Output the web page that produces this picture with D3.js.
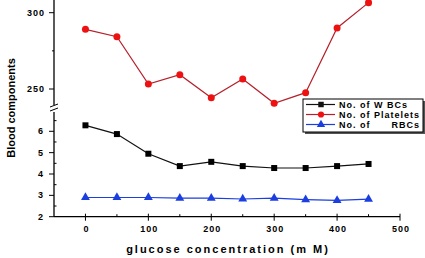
<!DOCTYPE html>
<html>
<head>
<meta charset="utf-8">
<script src="https://cdn.jsdelivr.net/npm/d3@7"></script>
<style>
    body { margin: 0; background: #fff; }
    svg { display: block; font-family: "Liberation Sans", Arial, sans-serif; }
    .tick_label { font-size: 9px; font-weight: bold; letter-spacing: 1px; }
</style>
</head>
<body>
<div class="chart_holder"></div>
<script>
// glucose concentration (mM)
const glucose = [0, 50, 100, 150, 200, 250, 300, 350, 400, 450]
const wbc = [6.28, 5.87, 4.95, 4.37, 4.57, 4.37, 4.28, 4.28, 4.37, 4.47]
const platelets = [289.1, 284.3, 253.3, 259.4, 244.3, 256.6, 240.6, 247.6, 290, 306.6]
const rbc = [2.9, 2.9, 2.9, 2.87, 2.87, 2.83, 2.87, 2.8, 2.76, 2.82]

const x_ticks = [0, 100, 200, 300, 400, 500]
const upper_ticks = [250, 300]
const lower_ticks = [2, 3, 4, 5, 6]

const series_names = ["No. of W BCs", "No. of Platelets", "No. of      RBCs"]

function drawChart() {
    const width = 425
    const height = 258

    const svg = d3.select(".chart_holder")
        .append("svg")
        .attr("width", width)
        .attr("height", height)

    const x = d3.scaleLinear().domain([-50, 500]).range([54, 400])
    const y_up = d3.scaleLinear().domain([250, 300]).range([89, 12.7])
    const y_low = d3.scaleLinear().domain([2, 6]).range([216.7, 131.3])

    const axis_x = 54
    const base_y = 216.7

    // y axis - upper part and lower part with break
    svg.append("line").attr("x1", axis_x).attr("x2", axis_x).attr("y1", 0).attr("y2", 105)
        .attr("stroke", "#000").attr("stroke-width", 1.3)
    svg.append("line").attr("x1", axis_x).attr("x2", axis_x).attr("y1", 112).attr("y2", base_y)
        .attr("stroke", "#000").attr("stroke-width", 1.3)
    svg.selectAll(".brk")
        .data([105.5, 109.5])
        .join("line")
        .attr("x1", axis_x - 4).attr("x2", axis_x + 4)
        .attr("y1", d => d + 1.5).attr("y2", d => d - 1.5)
        .attr("stroke", "#000").attr("stroke-width", 1)

    // upper ticks
    svg.selectAll(".up_tick")
        .data(upper_ticks)
        .join("line")
        .attr("x1", axis_x - 5).attr("x2", axis_x)
        .attr("y1", d => y_up(d)).attr("y2", d => y_up(d))
        .attr("stroke", "#000")
    svg.append("line")
        .attr("x1", axis_x - 2).attr("x2", axis_x)
        .attr("y1", y_up(275)).attr("y2", y_up(275))
        .attr("stroke", "#000")
    svg.selectAll(".up_label")
        .data(upper_ticks)
        .join("text")
        .attr("class", "tick_label")
        .attr("x", axis_x - 9)
        .attr("y", d => y_up(d) + 3)
        .attr("text-anchor", "end")
        .text(d => d)

    // lower ticks
    svg.selectAll(".low_tick")
        .data(lower_ticks)
        .join("line")
        .attr("x1", axis_x - 5).attr("x2", axis_x)
        .attr("y1", d => y_low(d)).attr("y2", d => y_low(d))
        .attr("stroke", "#000")
    svg.selectAll(".low_minor")
        .data([2.5, 3.5, 4.5, 5.5, 6.5])
        .join("line")
        .attr("x1", axis_x).attr("x2", axis_x + 2.5)
        .attr("y1", d => y_low(d)).attr("y2", d => y_low(d))
        .attr("stroke", "#000")
    svg.selectAll(".low_label")
        .data(lower_ticks)
        .join("text")
        .attr("class", "tick_label")
        .attr("x", axis_x - 10)
        .attr("y", d => y_low(d) + 3)
        .attr("text-anchor", "end")
        .text(d => d)

    // x axis
    svg.append("line").attr("x1", axis_x).attr("x2", x(500)).attr("y1", base_y).attr("y2", base_y)
        .attr("stroke", "#000").attr("stroke-width", 1.3)
    svg.selectAll(".x_tick")
        .data(x_ticks)
        .join("line")
        .attr("x1", d => x(d)).attr("x2", d => x(d))
        .attr("y1", base_y - 3).attr("y2", base_y + 4)
        .attr("stroke", "#000")
    svg.selectAll(".x_minor")
        .data([50, 150, 250, 350, 450])
        .join("line")
        .attr("x1", d => x(d)).attr("x2", d => x(d))
        .attr("y1", base_y - 2.5).attr("y2", base_y)
        .attr("stroke", "#000")
    svg.selectAll(".x_label")
        .data(x_ticks)
        .join("text")
        .attr("class", "tick_label")
        .attr("x", d => x(d) + 1)
        .attr("y", base_y + 15)
        .attr("text-anchor", "middle")
        .text(d => d)

    // axis titles
    svg.append("text")
        .attr("x", 228)
        .attr("y", 253)
        .attr("text-anchor", "middle")
        .attr("font-size", 11)
        .attr("font-weight", "bold")
        .attr("letter-spacing", 2)
        .text("glucose concentration (m M)")

    svg.append("text")
        .attr("transform", "translate(15,108) rotate(-90)")
        .attr("text-anchor", "middle")
        .attr("font-size", 11)
        .attr("font-weight", "bold")
        .text("Blood components")

    // series
    const line_low = d3.line().x((d, i) => x(glucose[i])).y(d => y_low(d))
    const line_up = d3.line().x((d, i) => x(glucose[i])).y(d => y_up(d))

    svg.append("path").datum(wbc).attr("d", line_low)
        .attr("fill", "none").attr("stroke", "#111").attr("stroke-width", 1.2)
    svg.selectAll(".wbc_pt")
        .data(wbc)
        .join("rect")
        .attr("x", (d, i) => x(glucose[i]) - 3)
        .attr("y", d => y_low(d) - 3)
        .attr("width", 6).attr("height", 6)
        .attr("fill", "#000")

    svg.append("path").datum(platelets).attr("d", line_up)
        .attr("fill", "none").attr("stroke", "#b5202a").attr("stroke-width", 1.2)
    svg.selectAll(".plt_pt")
        .data(platelets)
        .join("circle")
        .attr("cx", (d, i) => x(glucose[i]))
        .attr("cy", d => y_up(d))
        .attr("r", 3.5)
        .attr("fill", "#ee1111")

    svg.append("path").datum(rbc).attr("d", line_low)
        .attr("fill", "none").attr("stroke", "#1a3ee0").attr("stroke-width", 1.2)
    const tri = d3.symbol().type(d3.symbolTriangle).size(34)
    svg.selectAll(".rbc_pt")
        .data(rbc)
        .join("path")
        .attr("d", tri)
        .attr("transform", (d, i) => `translate(${x(glucose[i])},${y_low(d)})`)
        .attr("fill", "#1a3ee0")

    // legend
    const legend = svg.append("g").attr("transform", "translate(303,99)")
    legend.append("rect").attr("x", 2).attr("y", 2).attr("width", 120).attr("height", 33)
        .attr("fill", "#555")
    legend.append("rect").attr("x", 0).attr("y", 0).attr("width", 120).attr("height", 33)
        .attr("fill", "#fff").attr("stroke", "#000").attr("stroke-width", 1)

    const leg_colors = ["#111", "#b5202a", "#1a3ee0"]
    const leg_marks = ["square", "circle", "triangle"]
    const rows = legend.selectAll(".row")
        .data(series_names)
        .join("g")
        .attr("transform", (d, i) => `translate(0,${5.5 + i * 10})`)
    rows.append("line").attr("x1", 3).attr("x2", 32).attr("y1", 0).attr("y2", 0)
        .attr("stroke", (d, i) => leg_colors[i]).attr("stroke-width", 1.2)
    rows.append("path")
        .attr("d", (d, i) => d3.symbol()
            .type(leg_marks[i] == "square" ? d3.symbolSquare : leg_marks[i] == "circle" ? d3.symbolCircle : d3.symbolTriangle)
            .size(30)())
        .attr("transform", "translate(18,0)")
        .attr("fill", (d, i) => i == 1 ? "#ee1111" : leg_colors[i])
    rows.append("text")
        .attr("x", 36).attr("y", 3.5)
        .attr("font-size", 9).attr("font-weight", "bold").attr("letter-spacing", 1)
        .attr("xml:space", "preserve")
        .style("white-space", "pre")
        .text(d => d)
}

drawChart()
</script>
</body>
</html>
